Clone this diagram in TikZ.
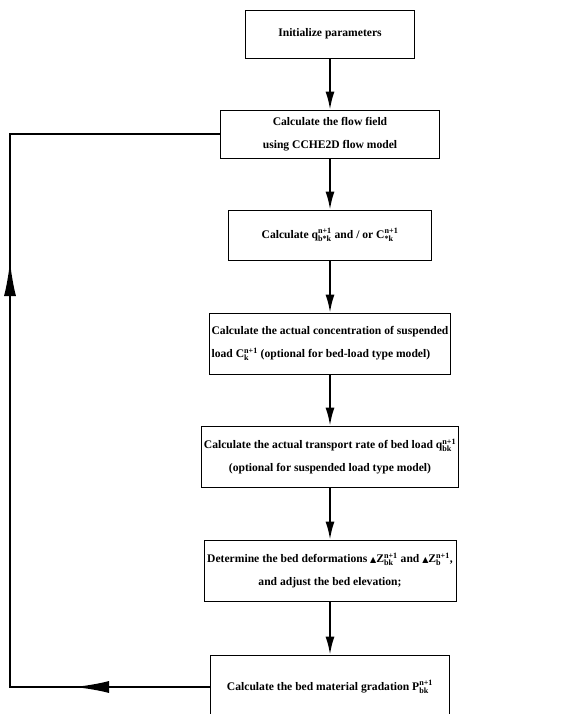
\documentclass[tikz,border=0pt]{standalone}
\usepackage{amsmath}
\usepackage{fontspec}
\setmainfont{Liberation Serif}
\newfontfamily\symfont{DejaVu Sans}
\usetikzlibrary{arrows.meta,decorations.markings}
\tikzset {>=Latex}
\newcommand*{\sedvar}[3]{#1$^{\text{#2}}_{\text{#3}}$}
\newcommand*{\uptri}{{\symfont\footnotesize ▲}}

\begin{document}
\begin{tikzpicture}[x=1pt,y=-1pt,
  stepbox/.style={draw,line width=0.9pt,inner sep=2pt,align=center,
    font=\bfseries\fontsize{11.6}{23}\selectfont},
  flow/.style={line width=1.8pt,-{Latex[length=18pt,width=9pt]}},
  loopline/.style={line width=2.2pt}]
\useasboundingbox (0,0) rectangle (581,714);

% Boxes
\coordinate (P1) at (330,34);
\coordinate (P2) at (330,134);
\coordinate (P3) at (330,235);
\coordinate (P4) at (330,343.5);
\coordinate (P5) at (330,456.5);
\coordinate (P6) at (330,570.5);
\coordinate (P7) at (330,687);

\node[stepbox,minimum width=169pt,minimum height=48pt] (init) at (P1)
  {Initialize parameters};
\node[stepbox,minimum width=219pt,minimum height=48pt] (field) at (P2)
  {Calculate the flow field\\using CCHE2D flow model};
\node[stepbox,minimum width=203pt,minimum height=50pt] (capac) at (P3)
  {Calculate \sedvar{q}{n+1}{b*k} and / or \sedvar{C}{n+1}{*k}};
\node[stepbox,align=left,minimum width=237pt,minimum height=61pt] (conc) at (P4)
  {Calculate the actual concentration of suspended\\
   load \sedvar{C}{n+1}{k}\ (optional for bed-load type model)};
\node[stepbox,minimum width=250pt,minimum height=61pt] (rate) at (P5)
  {Calculate the actual transport rate of bed load \sedvar{q}{n+1}{bk}\\
   (optional for suspended load type model)};
\node[stepbox,minimum width=252pt,minimum height=61pt] (deform) at (P6)
  {Determine the bed deformations \uptri\sedvar{Z}{n+1}{bk} and \uptri\sedvar{Z}{n+1}{b},\\
   and adjust the bed elevation;};
\node[stepbox,minimum width=239pt,minimum height=64pt] (grad) at (P7)
  {Calculate the bed material gradation \sedvar{P}{n+1}{bk}};

% Main flow
\foreach \a/\b in {init/field,field/capac,capac/conc,conc/rate,rate/deform,deform/grad}
  \draw[flow] (\a) -- (\b);

% Feedback loop
\coordinate (FB) at (10,687);
\coordinate (FT) at (10,134);
\draw[loopline,postaction={decorate},
  decoration={markings,
    mark=at position 136pt with {\arrow{Latex[length=35pt,width=12pt]}},
    mark=at position 626pt with {\arrow{Latex[length=35pt,width=12pt]}}}]
  (grad.west) -- (FB) -- (FT) -- (field.west);
\end{tikzpicture}
\end{document}
